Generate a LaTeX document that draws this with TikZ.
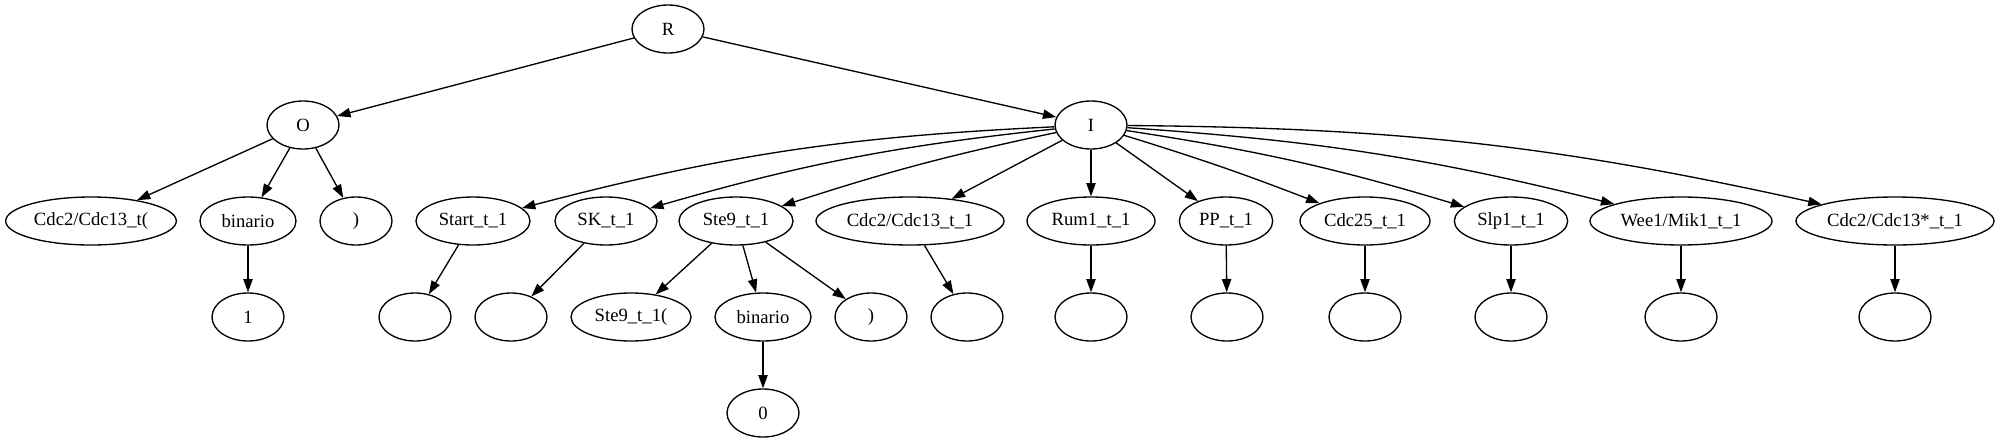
\documentclass[tikz,border=0pt]{standalone}
\usepackage{fontspec}
\setmainfont{Liberation Serif}
\usetikzlibrary{arrows.meta,shapes.geometric}
\begin{document}
\begin{tikzpicture}[x=0.75pt,y=-0.75pt,
  nd/.style={draw,ellipse,line width=1pt,minimum height=36pt,minimum width=54pt,inner sep=0pt,font=\fontsize{14}{16}\selectfont},
  ed/.style={line width=1pt,-{Triangle[length=10pt,width=7pt]}}]
\useasboundingbox (0,0) rectangle (2003,443);
% rank 0/1
\node[nd] (R) at (668,29) {R};
\node[nd] (O) at (303,125) {O};
\node[nd] (I) at (1091,125) {I};
% rank 2
\node[nd,minimum width=128pt] (c1) at (91,221) {Cdc2/Cdc13\_t(};
\node[nd,minimum width=72pt] (bin1) at (248,221) {binario};
\node[nd] (par1) at (356,221) {)};
\node[nd,minimum width=85.5pt] (start) at (473,221) {Start\_t\_1};
\node[nd,minimum width=76.5pt] (sk) at (606,221) {SK\_t\_1};
\node[nd,minimum width=85.5pt] (ste) at (736,221) {Ste9\_t\_1};
\node[nd,minimum width=141pt] (cdc) at (910,221) {Cdc2/Cdc13\_t\_1};
\node[nd,minimum width=96pt] (rum) at (1091,221) {Rum1\_t\_1};
\node[nd,minimum width=70pt] (pp) at (1226,221) {PP\_t\_1};
\node[nd,minimum width=97.5pt] (c25) at (1365,221) {Cdc25\_t\_1};
\node[nd,minimum width=85pt] (slp) at (1511,221) {Slp1\_t\_1};
\node[nd,minimum width=136.5pt] (wee) at (1681,221) {Wee1/Mik1\_t\_1};
\node[nd,minimum width=148.5pt] (cdcs) at (1895,221) {Cdc2/Cdc13*\_t\_1};
% rank 3
\node[nd] (one) at (248,317) {1};
\node[nd] (e1) at (415,317) {};
\node[nd] (e2) at (511,317) {};
\node[nd,minimum width=90pt] (ste9p) at (631,317) {Ste9\_t\_1(};
\node[nd,minimum width=72pt] (bin2) at (763,317) {binario};
\node[nd] (par2) at (871,317) {)};
\node[nd] (e3) at (967,317) {};
\node[nd] (e4) at (1091,317) {};
\node[nd] (e5) at (1227,317) {};
\node[nd] (e6) at (1365,317) {};
\node[nd] (e7) at (1511,317) {};
\node[nd] (e8) at (1681,317) {};
\node[nd] (e9) at (1895,317) {};
% rank 4
\node[nd] (zero) at (763,413) {0};
% edges
\draw[ed] (R) -- (O);
\draw[ed] (R) -- (I);
\draw[ed] (O) -- (c1);
\draw[ed] (O) -- (bin1);
\draw[ed] (O) -- (par1);
\draw[ed] (bin1) -- (one);
\draw[ed] (I) to[bend right=6] (start);
\draw[ed] (I) to[bend right=5] (sk);
\draw[ed] (I) to[bend right=3] (ste);
\draw[ed] (I) -- (cdc);
\draw[ed] (I) -- (rum);
\draw[ed] (I) -- (pp);
\draw[ed] (I) to[bend left=2] (c25);
\draw[ed] (I) to[bend left=4] (slp);
\draw[ed] (I) to[bend left=5] (wee);
\draw[ed] (I) to[bend left=6] (cdcs);
\draw[ed] (start) -- (e1);
\draw[ed] (sk) -- (e2);
\draw[ed] (ste) -- (ste9p);
\draw[ed] (ste) -- (bin2);
\draw[ed] (ste) -- (par2);
\draw[ed] (bin2) -- (zero);
\draw[ed] (cdc) -- (e3);
\draw[ed] (rum) -- (e4);
\draw[ed] (pp) -- (e5);
\draw[ed] (c25) -- (e6);
\draw[ed] (slp) -- (e7);
\draw[ed] (wee) -- (e8);
\draw[ed] (cdcs) -- (e9);
\end{tikzpicture}
\end{document}
